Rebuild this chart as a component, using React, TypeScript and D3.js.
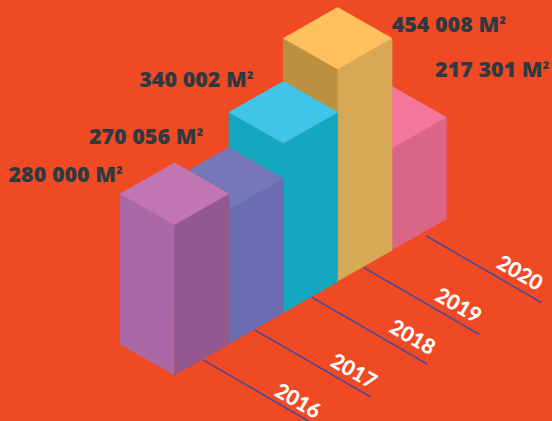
import { useEffect, useRef } from "react";
import { select, scaleLinear, line } from "d3";

const years = ["2016", "2017", "2018", "2019", "2020"];
const areas = [280000, 270056, 340002, 454008, 217301];
const areaLabels = ["280 000 M", "270 056 M", "340 002 M", "454 008 M", "217 301 M"];

const topColors = ["#c276b1", "#7577b7", "#40c4e9", "#ffc15e", "#f5769b"];
const leftColors = ["#aa68a6", "#6b6db0", "#14a7c0", "#bb9140", "#db6587"];
const rightColors = ["#94578e", "#6b6db0", "#14a7c0", "#d8a954", "#db6587"];

// label offsets from the front top corner of each bar
const labelDx = [-166, -140, -144, 54, 43];
const labelDy = [-43, -65, -56.5, -37.6, -71];
// the year lines are not quite evenly spaced in the artwork
const tickDx = [0, -2.5, 0, -2.5, 5.5];
const tickDy = [0, 1.5, 0, 1.5, 1.2];
const yearDx = [-20, -16, -14, -20, -21];
const yearDy = [-27, -27, -28, -30, -31];

const width = 552;
const height = 421;
const halfWidth = 54.5;
const halfDepth = 31;

function App() {
  const svgRef = useRef<SVGSVGElement>(null);

  useEffect(() => {
    const svg = select(svgRef.current);
    svg.selectAll("*").remove();

    // bars run up and to the right in isometric view
    const xScale = scaleLinear().domain([0, 4]).range([174.5, 392]);
    const yScale = scaleLinear().domain([0, 4]).range([375.3, 250]);
    // the artwork does not draw heights strictly in proportion, so the scale has one stop per value
    const hScale = scaleLinear()
      .domain([217301, 270056, 280000, 340002, 454008])
      .range([101.7, 134.6, 150.5, 169.4, 212]);

    const poly = line();

    svg.append("rect").attr("width", width).attr("height", height).attr("fill", "#f04a25");

    // year lines and labels
    years.forEach((year, i) => {
      const x0 = xScale(i) + 28.5 + tickDx[i];
      const y0 = yScale(i) - 15.5 + tickDy[i];
      const x1 = x0 + 115.5;
      const y1 = y0 + 67;
      svg
        .append("line")
        .attr("x1", x0)
        .attr("y1", y0)
        .attr("x2", x1)
        .attr("y2", y1)
        .attr("stroke", "#3a4a9e")
        .attr("stroke-width", 1.4);
      svg
        .append("text")
        .attr("transform", `translate(${x1 + yearDx[i]},${y1 + yearDy[i]}) rotate(30)`)
        .attr("text-anchor", "middle")
        .attr("dominant-baseline", "central")
        .attr("font-family", "Lato")
        .attr("font-weight", 900)
        .attr("font-size", 21)
        .attr("fill", "#ffffff")
        .text(year);
    });

    // back to front
    for (let i = years.length - 1; i >= 0; i--) {
      const x = xScale(i);
      const y = yScale(i);
      const h = hScale(areas[i]);
      const top = y - h;
      const g = svg.append("g");

      const faces: [[number, number][], string][] = [
        [
          [
            [x - halfWidth, y - halfDepth],
            [x, y],
            [x, top],
            [x - halfWidth, top - halfDepth],
          ],
          leftColors[i],
        ],
        [
          [
            [x, y],
            [x + halfWidth, y - halfDepth],
            [x + halfWidth, top - halfDepth],
            [x, top],
          ],
          rightColors[i],
        ],
        [
          [
            [x, top],
            [x + halfWidth, top - halfDepth],
            [x, top - 2 * halfDepth],
            [x - halfWidth, top - halfDepth],
          ],
          topColors[i],
        ],
      ];
      faces.forEach(([points, color]) => {
        g.append("path")
          .attr("d", poly(points) + "Z")
          .attr("fill", color)
          .attr("stroke", color)
          .attr("stroke-width", 0.3);
      });
    }

    areaLabels.forEach((label, i) => {
      const top = yScale(i) - hScale(areas[i]);
      const text = svg
        .append("text")
        .attr("x", xScale(i) + labelDx[i])
        .attr("y", top + labelDy[i])
        .attr("font-family", "'Open Sans'")
        .attr("font-weight", 800)
        .attr("font-size", 21.5)
        .attr("fill", "#2f3a40");
      text.append("tspan").text(label);
      // the superscript is smaller in the artwork than the font's own glyph
      text.append("tspan").attr("font-size", 17).attr("dy", -1).text("²");
    });
  }, []);

  return (
    <svg
      ref={svgRef}
      width={width}
      height={height}
      style={{ position: "absolute", left: 0, top: 0 }}
    />
  );
}

export default App;
